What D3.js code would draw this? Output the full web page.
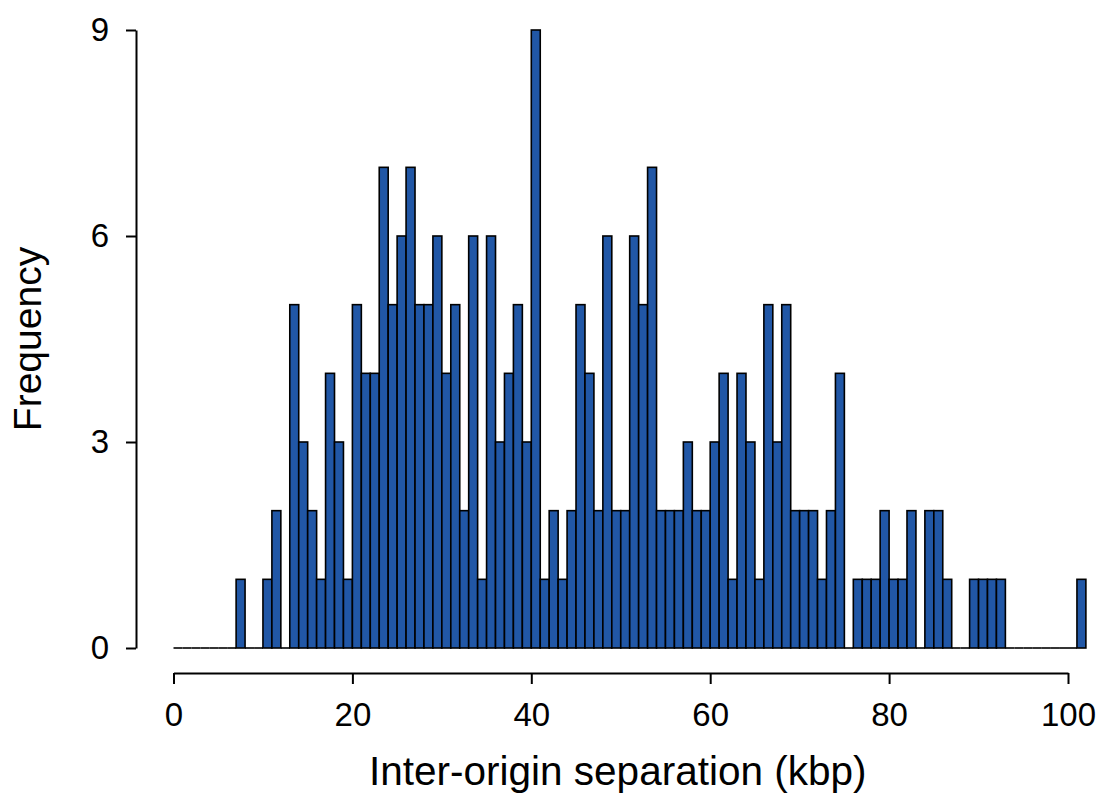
<!DOCTYPE html>
<html lang="en">
  <head>
    <meta charset="UTF-8"/>
    <title>Inter-origin separation</title>
    <script src="https://d3js.org/d3.v7.min.js"></script>
    <style>
        body {
          margin: 0;
          background: #fff;
          font-family: "Liberation Sans", Arial, sans-serif;
        }
        .bar {
          fill: #2157a6;
          stroke: #000;
          stroke-width: 1.6;
        }
        .empty {
          stroke: #000;
          stroke-width: 1.6;
        }
        .axis path,
        .axis line {
          fill: none;
          stroke: #000;
          stroke-width: 2;
        }
        .axis text {
          font-size: 33px;
          fill: #000;
        }
        .title {
          font-size: 39px;
          fill: #000;
        }
        .xtitle {
          font-size: 40.5px;
        }
    </style>
  </head>
  <body>
    <script>
        // 1 kbp bins, starting at 0
        const binStart = 0
        const binWidth = 1
        const counts = [
          0, 0, 0, 0, 0, 0, 0, 1, 0, 0,   // 0-9
          1, 2, 0, 5, 3, 2, 1, 4, 3, 1,   // 10-19
          5, 4, 4, 7, 5, 6, 7, 5, 5, 6,   // 20-29
          4, 5, 2, 6, 1, 6, 3, 4, 5, 3,   // 30-39
          9, 1, 2, 1, 2, 5, 4, 2, 6, 2,   // 40-49
          2, 6, 5, 7, 2, 2, 2, 3, 2, 2,   // 50-59
          3, 4, 1, 4, 3, 1, 5, 3, 5, 2,   // 60-69
          2, 2, 1, 2, 4, 0, 1, 1, 1, 2,   // 70-79
          1, 1, 2, 0, 2, 2, 1, 0, 0, 1,   // 80-89
          1, 1, 1, 0, 0, 0, 0, 0, 0, 0,   // 90-99
          0, 1                            // 100-101
        ]
        const xTicks = [0, 20, 40, 60, 80, 100]
        const yTicks = [0, 3, 6, 9]

        const bins = counts.map((c, i) => ({
          x0: binStart + i * binWidth,
          x1: binStart + (i + 1) * binWidth,
          n: c
        }))

        const width = 1100, height = 796

        const x = d3.scaleLinear()
            .domain([0, 100])
            .range([173.5, 1068])

        const y = d3.scaleLinear()
            .domain([0, 9])
            .range([648, 30])

        const svg = d3.select("body").append("svg")
            .attr("width", width)
            .attr("height", height)

        // bars
        svg.append("g")
          .selectAll("rect")
          .data(bins.filter(d => d.n > 0))
          .join("rect")
            .attr("class", "bar")
            .attr("x", d => x(d.x0))
            .attr("width", d => x(d.x1) - x(d.x0))
            .attr("y", d => y(d.n))
            .attr("height", d => y(0) - y(d.n))

        // empty bins are just a flat outline on the baseline, R-style
        svg.append("g")
          .selectAll("line")
          .data(bins.filter(d => d.n === 0))
          .join("line")
            .attr("class", "empty")
            .attr("x1", d => x(d.x0))
            .attr("x2", d => x(d.x1))
            .attr("y1", y(0))
            .attr("y2", y(0))

        // axes are detached from the plot, like R's default
        svg.append("g")
            .attr("class", "x axis")
            .attr("transform", "translate(0, 673)")
            .call(d3.axisBottom(x).tickValues(xTicks).tickSize(11).tickPadding(19).tickSizeOuter(0))
            .call(g => g.selectAll("text").attr("dy", "0.71em"))

        svg.append("g")
            .attr("class", "y axis")
            .attr("transform", "translate(136, 0)")
            .call(d3.axisLeft(y).tickValues(yTicks).tickSize(10).tickPadding(17).tickSizeOuter(0))

        svg.append("text")
            .attr("class", "title xtitle")
            .attr("x", x(50) - 3)
            .attr("y", 785)
            .attr("text-anchor", "middle")
            .text("Inter-origin separation (kbp)")

        svg.append("text")
            .attr("class", "title")
            .attr("transform", `translate(41, ${y(4.5)}) rotate(-90)`)
            .attr("text-anchor", "middle")
            .text("Frequency")
    </script>
  </body>
</html>
